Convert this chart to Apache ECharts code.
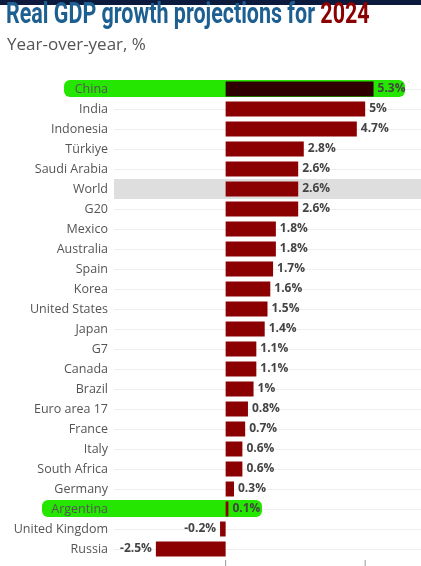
<!DOCTYPE html><html><head><meta charset="utf-8"><script src="https://cdn.jsdelivr.net/npm/echarts@6/dist/echarts.min.js"></script>
<style>body{margin:0;background:#fff}#c{width:421px;height:566px}</style></head><body><div id="c"></div><script>
const categories=["China","India","Indonesia","Türkiye","Saudi Arabia","World","G20","Mexico","Australia","Spain","Korea","United States","Japan","G7","Canada","Brazil","Euro area 17","France","Italy","South Africa","Germany","Argentina","United Kingdom","Russia"];
const values=[5.3,5,4.7,2.8,2.6,2.6,2.6,1.8,1.8,1.7,1.6,1.5,1.4,1.1,1.1,1,0.8,0.7,0.6,0.6,0.3,0.1,-0.2,-2.5];
const highlighted=["China","Argentina"];
const chart=echarts.init(document.getElementById('c'));
chart.setOption({
 animation:false,
 graphic:[{type:'rect',left:0,top:0,shape:{width:421,height:5},style:{fill:'#0b1a3d'}},
  {type:'text',x:6,y:1,scaleX:0.74,style:{text:'Real GDP growth projections for {r|2024}',fill:'#1d5f91',font:'bold 29px Roboto, sans-serif',rich:{r:{fill:'#8b0000',font:'bold 29px Roboto, sans-serif'}}}},
  {type:'text',left:7,top:37,style:{text:'Year-over-year, %',fill:'#555',font:'17px "Open Sans", sans-serif'}}],
 grid:{left:114,right:0,top:79,bottom:7,containLabel:false},
 xAxis:{type:'value',min:-4,max:7,interval:5,splitLine:{show:false},axisLabel:{show:false},axisLine:{show:false},axisTick:{show:false}},
 yAxis:{type:'category',inverse:true,z:10,data:categories,axisLine:{show:false},axisTick:{show:false},
  splitLine:{show:false},axisLabel:{color:'#555',fontSize:12.5,fontFamily:'Open Sans',margin:6}},
 series:[{type:'bar',z:5,data:values.map((v,i)=>({value:v,itemStyle:{color:i===0?'#2e0000':'#8b0000'},label:{position:v<0?'left':'right'}})),barWidth:15,
  label:{show:true,formatter:p=>p.value+'%',color:'#444',fontWeight:'bold',fontSize:12,fontFamily:'Open Sans',distance:4},
  markArea:{silent:true,itemStyle:{color:'#dedede'},data:[[{yAxis:'World',x:114},{yAxis:'World',x:421}]]},
  markLine:{silent:true,symbol:'none',label:{show:false},lineStyle:{color:'#eee',type:'solid',width:1},data:categories.filter(c=>c!=='World').map(c=>({yAxis:c})),z:0}},
 ]
});
const g=[];
[0,5].forEach(v=>{const p=chart.convertToPixel({xAxisIndex:0,yAxisIndex:0},[v,'Russia']);g.push({type:'line',shape:{x1:p[0],y1:560,x2:p[0],y2:566},style:{stroke:'#999',lineWidth:1}});});
highlighted.forEach(c=>{const p=chart.convertToPixel({yAxisIndex:0},c);const x0=c==='China'?64:42,x1=c==='China'?405:262;
 g.push({type:'rect',z:1,shape:{x:x0,y:p-9,width:x1-x0,height:17,r:6},style:{fill:'#24e600'}});});
chart.setOption({graphic:chart.getOption().graphic[0].elements.concat(g)});
</script></body></html>
